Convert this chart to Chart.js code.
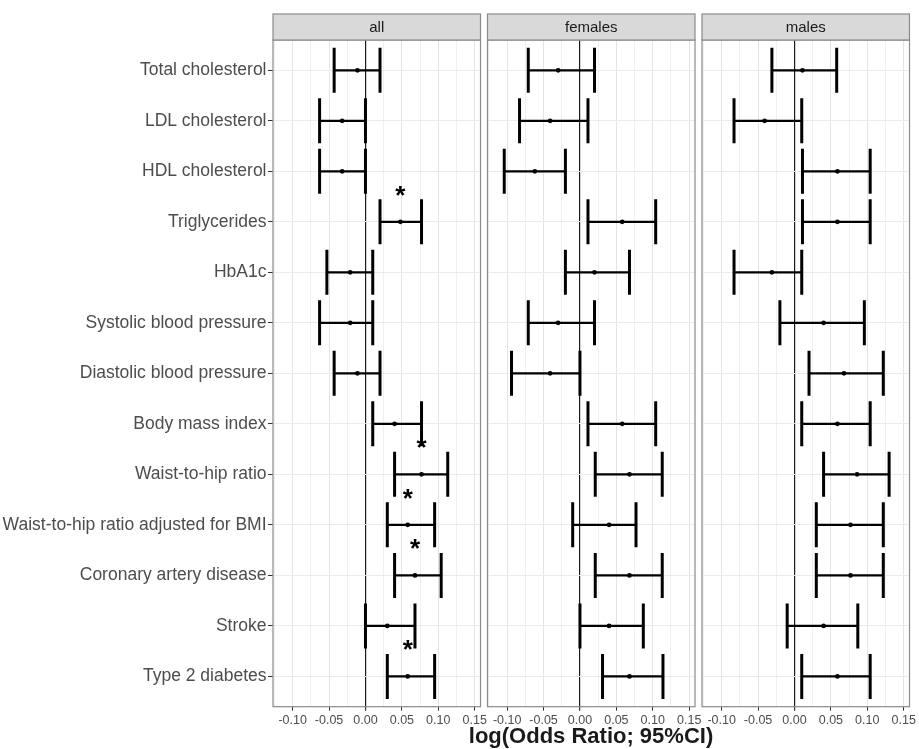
<!DOCTYPE html>
<html>
<head>
<meta charset="utf-8">
<script src="https://cdn.jsdelivr.net/npm/chart.js@4.4.0/dist/chart.umd.min.js"></script>
<style>
  body { margin: 0; background: #fff; }
  #wrap { position: relative; width: 919px; height: 749px; }
  #wrap canvas { position: absolute; left: 0; top: 0; }
</style>
</head>
<body>
<div id="wrap">
  <canvas id="cAll" width="919" height="749"></canvas>
  <canvas id="cFemales" width="919" height="749"></canvas>
  <canvas id="cMales" width="919" height="749"></canvas>
</div>
<script>
// Categories (top to bottom)
const traits = [
  'Total cholesterol', 'LDL cholesterol', 'HDL cholesterol', 'Triglycerides',
  'HbA1c', 'Systolic blood pressure', 'Diastolic blood pressure', 'Body mass index',
  'Waist-to-hip ratio', 'Waist-to-hip ratio adjusted for BMI', 'Coronary artery disease',
  'Stroke', 'Type 2 diabetes'
];

// all
const allLo  = [-0.043, -0.063, -0.063, 0.020, -0.053, -0.063, -0.043, 0.010, 0.040, 0.030, 0.040, 0.000, 0.030];
const allEst = [-0.011, -0.032, -0.032, 0.048, -0.021, -0.021, -0.011, 0.040, 0.077, 0.058, 0.068, 0.030, 0.058];
const allHi  = [ 0.020,  0.000,  0.000, 0.077,  0.010,  0.010,  0.020, 0.077, 0.113, 0.095, 0.104, 0.068, 0.095];
const allStars = [3, 8, 9, 10, 12];

// females
const femLo  = [-0.071, -0.083, -0.104, 0.011, -0.020, -0.071, -0.094, 0.011, 0.021, -0.010, 0.021, 0.000, 0.031];
const femEst = [-0.030, -0.041, -0.062, 0.058,  0.020, -0.030, -0.041, 0.058, 0.068,  0.040, 0.068, 0.040, 0.068];
const femHi  = [ 0.020,  0.011, -0.020, 0.104,  0.068,  0.020,  0.000, 0.104, 0.113,  0.077, 0.113, 0.087, 0.114];

// males
const maleLo  = [-0.031, -0.083, 0.011, 0.011, -0.083, -0.020, 0.020, 0.010, 0.040, 0.030, 0.030, -0.010, 0.010];
const maleEst = [ 0.011, -0.041, 0.059, 0.059, -0.031,  0.040, 0.068, 0.059, 0.086, 0.077, 0.077,  0.040, 0.059];
const maleHi  = [ 0.058,  0.010, 0.104, 0.104,  0.010,  0.096, 0.122, 0.104, 0.130, 0.122, 0.122,  0.087, 0.104];

// x axis
const xMin = -0.127, xMax = 0.158, xStep = 0.025, xMajor = 0.05;
const xTitle = 'log(Odds Ratio; 95%CI)';

const FONT = '"Liberation Sans", Arial, Helvetica, sans-serif';
Chart.defaults.font.family = FONT;

const W = 919, PANEL_W = 207.5, TOP = 40, AXIS_H = 42.3;

function isMajor(v) {
  const r = v / xMajor;
  return Math.abs(r - Math.round(r)) < 1e-6;
}

// strip, border, stars and axis title
const facetPlugin = {
  id: 'facet',
  afterDraw(chart, args, opts) {
    const { ctx, chartArea: a, scales } = chart;
    ctx.save();
    // significance stars
    ctx.fillStyle = '#000';
    ctx.font = 'bold 26px ' + FONT;
    ctx.textAlign = 'center';
    ctx.textBaseline = 'alphabetic';
    (opts.stars || []).forEach(i => {
      const x = scales.x.getPixelForValue(opts.est[i]);
      const y = scales.y.getPixelForValue(i - 0.65) + 0.57 * 26;
      ctx.fillText('*', x, y);
    });
    // panel border
    ctx.strokeStyle = '#8a8a8a';
    ctx.lineWidth = 1.2;
    ctx.strokeRect(a.left, a.top, a.right - a.left, a.bottom - a.top);
    // strip
    ctx.fillStyle = '#d9d9d9';
    ctx.fillRect(a.left, a.top - 26, a.right - a.left, 26);
    ctx.strokeRect(a.left, a.top - 26, a.right - a.left, 26);
    ctx.fillStyle = '#1a1a1a';
    ctx.font = '15px ' + FONT;
    ctx.textBaseline = 'middle';
    ctx.fillText(opts.label, (a.left + a.right) / 2, a.top - 12.5);
    // shared x title
    if (opts.title) {
      ctx.font = 'bold 22px ' + FONT;
      ctx.textBaseline = 'alphabetic';
      ctx.fillText(opts.title, 591, 743);
    }
    ctx.restore();
  }
};

function panel(id, label, lo, est, hi, left, showY, stars, title) {
  const whisker = [], caps = [], dots = [];
  traits.forEach((t, i) => {
    whisker.push({ x: lo[i], y: i }, { x: hi[i], y: i }, { x: null, y: null });
    caps.push({ x: lo[i], y: i }, { x: hi[i], y: i });
    dots.push({ x: est[i], y: i });
  });

  new Chart(document.getElementById(id), {
    type: 'scatter',
    data: {
      datasets: [
        { data: whisker, showLine: true, spanGaps: false, borderColor: '#000', borderWidth: 2.2, pointRadius: 0 },
        { data: caps, pointStyle: 'line', pointRotation: 90, pointRadius: 22.5,
          pointBorderColor: '#000', pointBorderWidth: 3 },
        { data: dots, pointStyle: 'circle', pointRadius: 2.4, pointBackgroundColor: '#000',
          pointBorderWidth: 0 }
      ]
    },
    options: {
      responsive: false,
      animation: false,
      devicePixelRatio: 1,
      layout: {
        autoPadding: false,
        padding: { left: showY ? 0 : left, right: W - left - PANEL_W, top: TOP, bottom: 0 }
      },
      plugins: {
        legend: { display: false },
        tooltip: { enabled: false },
        facet: { label, stars, est, title }
      },
      scales: {
        x: {
          type: 'linear', min: xMin, max: xMax,
          border: { display: false },
          grid: {
            color: c => Math.abs(c.tick.value) < 1e-9 ? '#1a1a1a' : (isMajor(c.tick.value) ? '#e4e4e4' : '#f0f0f0'),
            lineWidth: c => Math.abs(c.tick.value) < 1e-9 ? 1.2 : 1,
            tickColor: c => isMajor(c.tick.value) ? '#333' : 'rgba(0,0,0,0)',
            tickLength: 4
          },
          ticks: {
            stepSize: xStep, includeBounds: false, autoSkip: false, maxRotation: 0,
            color: '#4d4d4d', font: { size: 12.5 }, padding: 2,
            callback: v => isMajor(v) ? v.toFixed(2) : ''
          },
          afterFit: s => { s.height = AXIS_H; s.paddingLeft = 0; s.paddingRight = 0; }
        },
        y: {
          type: 'linear', reverse: true, min: -0.6, max: 12.6,
          border: { display: false },
          grid: { color: '#ebebeb', drawTicks: showY, tickLength: showY ? 5 : 0, tickColor: '#333' },
          ticks: {
            display: showY, stepSize: 1, includeBounds: false, autoSkip: false,
            color: '#4d4d4d', font: { size: 17.5 }, padding: 1.5,
            callback: v => traits[v]
          },
          afterFit: s => { s.width = showY ? left : 0; s.paddingTop = 0; s.paddingBottom = 0; }
        }
      }
    },
    plugins: [facetPlugin]
  });
}

panel('cAll', 'all', allLo, allEst, allHi, 273, true, allStars, xTitle);
panel('cFemales', 'females', femLo, femEst, femHi, 487.5, false, [], null);
panel('cMales', 'males', maleLo, maleEst, maleHi, 702, false, [], null);
</script>
</body>
</html>
